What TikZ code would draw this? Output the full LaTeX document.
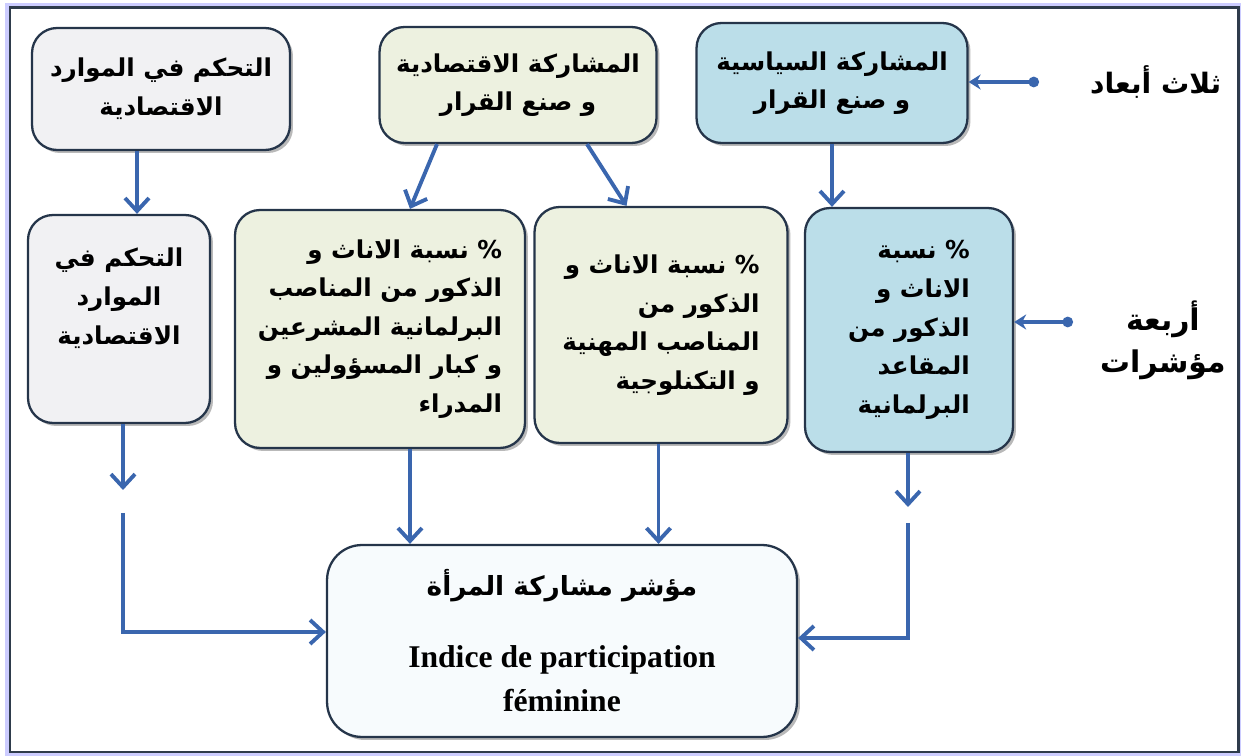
\documentclass[tikz,border=0pt]{standalone}
\usepackage{fontspec}
\setmainfont{Liberation Serif}
\newfontfamily\arabicfont[Script=Arabic]{DejaVu Sans}
\TeXXeTstate=1
\usepackage{tikz}
\usetikzlibrary{shapes,positioning,shadows,arrows.meta}

\definecolor{boxline}{HTML}{25354A}
\definecolor{arrowblue}{HTML}{3A66AE}
\definecolor{grayfill}{HTML}{F1F1F3}
\definecolor{greenfill}{HTML}{EDF1E0}
\definecolor{bluefill}{HTML}{BBDEE9}
\definecolor{whitefill}{HTML}{F7FBFD}
\definecolor{framegray}{HTML}{2E3B4B}

\newcommand{\ar}[1]{\beginR #1\endR}

\tikzset{
  box/.style={draw=boxline, line width=1.3pt, rounded corners=0.5cm,
    drop shadow={shadow xshift=0.06cm, shadow yshift=-0.06cm, fill=black!55, opacity=0.5},
    font=\arabicfont\bfseries\fontsize{14}{22}\selectfont, align=center},
  flow/.style={->, draw=arrowblue, line width=2.2pt},
  tag/.style={{Circle[length=6pt]}->, draw=arrowblue, line width=2pt,
    >={Stealth[length=2.4mm,width=3mm]}}
}

\begin{document}
\begin{tikzpicture}[x=0.02cm, y=-0.02cm, >={Straight Barb[length=2.6mm,width=4.8mm]}]
  \useasboundingbox (0,0) rectangle (1241,756);
  % frame
  \draw [line width=2pt, draw=blue!20] (7,5) rectangle (1241,755);
  \draw [line width=1.7pt, draw=framegray] (10,8) rectangle (1238,752);

  % three dimensions
  \node (LT) [box, fill=grayfill, minimum width=5.16cm, minimum height=2.44cm] at (161,89)
    {\ar{التحكم في الموارد}\\ \ar{الاقتصادية}};
  \node (MT) [box, fill=greenfill, minimum width=5.54cm, minimum height=2.32cm] at (518,85)
    {\ar{المشاركة الاقتصادية}\\ \ar{و صنع القرار}};
  \node (RT) [box, fill=bluefill, minimum width=5.42cm, minimum height=2.40cm] at (832,83)
    {\ar{المشاركة السياسية}\\ \ar{و صنع القرار}};

  % four indicators
  \node (LM) [box, fill=grayfill, minimum width=3.64cm, minimum height=4.16cm] at (119,319)
    {\ar{التحكم في}\\ \ar{الموارد}\\ \ar{الاقتصادية}\\[4pt]};
  \node (ML) [box, fill=greenfill, align=right, minimum width=5.80cm, minimum height=4.76cm] at (380,329)
    {\ar{\% نسبة الاناث و}\\ \ar{الذكور من المناصب}\\ \ar{البرلمانية المشرعين}\\
     \ar{و كبار المسؤولين و}\\ \ar{المدراء}};
  \node (MR) [box, fill=greenfill, align=right, minimum width=5.06cm, minimum height=4.72cm] at (661,325)
    {\ar{\% نسبة الاناث و}\\ \ar{الذكور من}\\ \ar{المناصب المهنية}\\ \ar{و التكنلوجية}};
  \node (RM) [box, fill=bluefill, align=right, minimum width=4.16cm, minimum height=4.88cm] at (909,330)
    {\ar{\% نسبة}\\ \ar{الاناث و}\\ \ar{الذكور من}\\ \ar{المقاعد}\\ \ar{البرلمانية}};

  % index
  \node (BOT) [box, fill=whitefill, rounded corners=0.7cm, minimum width=9.40cm, minimum height=3.84cm,
    font=\bfseries\fontsize{18}{25}\selectfont] at (562,641)
    {{\arabicfont\fontsize{15}{18}\selectfont\ar{مؤشر مشاركة المرأة}}\\[16pt]
     Indice de participation\\ féminine};

  % side labels
  \node (DIM) [anchor=west, font=\arabicfont\bfseries\fontsize{16}{22}\selectfont] at (1084,82)
    {\ar{ثلاث أبعاد}};
  \node (IND) [anchor=west, align=center, font=\arabicfont\bfseries\fontsize{17}{24}\selectfont] at (1094,340)
    {\ar{أربعة}\\ \ar{مؤشرات}};

  \draw [tag, shorten <=0.9cm] (DIM.west) -- (DIM.west -| RT.east);
  \draw [tag, shorten <=0.42cm] ([yshift=0.36cm]IND.west) -- ([yshift=0.36cm]IND.west -| RM.east);

  % arrows between the rows
  \draw [flow] ([xshift=-0.48cm]LT.south) -- ([xshift=-0.48cm]LT.south |- LM.north);
  \draw [flow] ([xshift=-1.62cm]MT.south) -- ([xshift=0.6cm]ML.north);
  \draw [flow] ([xshift=1.38cm]MT.south) -- ([xshift=-0.69cm]MR.north);
  \draw [flow] (RT.south) -- (RT.south |- RM.north);

  % arrows to the index
  \coordinate (L1) at (123,490);
  \coordinate (L2) at (123,513);
  \coordinate (R1) at (908,507);
  \coordinate (R2) at (908,523);
  \draw [flow] (LM.south -| L1) -- (L1);
  \draw [flow] (L2) |- ([yshift=0.18cm]BOT.west);
  \draw [flow] ([xshift=0.6cm]ML.south) -- ([xshift=0.6cm]ML.south |- BOT.north);
  \draw [flow] ([xshift=-0.05cm]MR.south) -- ([xshift=-0.05cm]MR.south |- BOT.north);
  \draw [flow] (RM.south -| R1) -- (R1);
  \draw [flow] (R2) |- ([yshift=0.06cm]BOT.east);
\end{tikzpicture}
\end{document}
